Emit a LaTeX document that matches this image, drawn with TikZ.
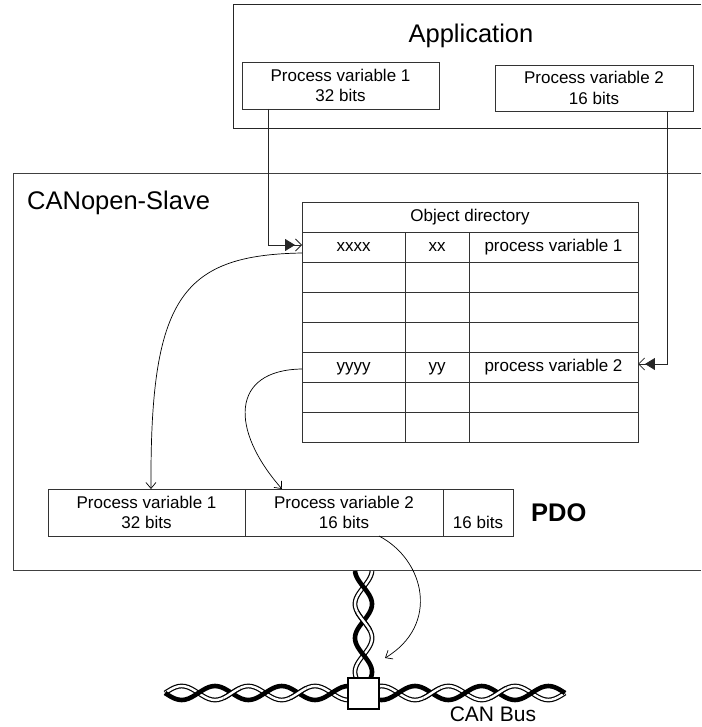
\documentclass[tikz,border=0pt]{standalone}
\usepackage{fontspec}
\setmainfont{Liberation Sans}
\usetikzlibrary{positioning, calc, arrows.meta}
\newcommand{\pvfont}{\fontsize{17}{20.5}\selectfont}
\newcommand{\titlefont}{\fontsize{25.5}{30}\selectfont}
\newcommand{\busfont}{\fontsize{21}{25}\selectfont}
\tikzset{
  frame/.style={draw=black!75, line width=0.9},
  box/.style={draw=black!80, line width=0.9, align=center, font=\pvfont, outer sep=0},
  cell/.style={box, minimum height=30, text height=12.5, text depth=3.5},
  feed/.style={-{Triangle[length=10pt, width=12pt] Straight Barb[length=6pt, width=12pt]}, draw=black!85, line width=0.8},
  map/.style={-{Straight Barb[length=6pt, width=10pt]}, line width=0.7},
  wirea/.style={line width=4.6, line join=round},
  wireb/.style={draw=black, double=white, line width=1.2, double distance=2.4},
  every node/.style={inner sep=0}
}

\begin{document}
\begin{tikzpicture}[x=1pt, y=-1pt]
  \useasboundingbox (0,0) rectangle (701,727);
  % application
  \draw[frame, draw=black!85] (701,4) -- (233,4) -- (233,128) -- (701,128);
  \node[font=\titlefont, anchor=base] (app) at (471,43) {Application};
  \node[box, minimum width=197, minimum height=47] (appvar1) at (340.5,85.5) {Process variable 1\\32 bits};
  \node[box, minimum width=198, minimum height=46] (appvar2) at (594,88) {Process variable 2\\16 bits};
  % slave
  \draw[frame] (701,173) -- (13,173) -- (13,570) -- (701,570);
  \node[font=\titlefont, anchor=base west] (slave) at (27,210) {CANopen-Slave};
  % object directory
  \node[cell, minimum width=336] (odhead) at (470,217) {Object directory};
  \foreach \r/\idx/\sub/\txt in {1/xxxx/xx/process variable 1, 2/{}/{}/{}, 3/{}/{}/{}, 4/{}/{}/{},
      5/yyyy/yy/process variable 2, 6/{}/{}/{}, 7/{}/{}/{}} {
    \node[cell, minimum width=103] (idx\r) at (353.5,{247+30*(\r-1)}) {\idx};
    \node[cell, minimum width=64] (sub\r) at (437,{247+30*(\r-1)}) {\sub};
    \node[cell, minimum width=169] (txt\r) at (553.5,{247+30*(\r-1)}) {\txt};
  }
  \draw[feed] ($(appvar1.south west)+(26,0)$) |- ($(idx1.west)+(0,-2)$);
  \draw[feed] ($(appvar2.south east)+(-26,0)$) |- ($(txt5.east)+(0,-3)$);
  % pdo
  \node[box, minimum width=197, minimum height=47] (pdo1) at (146.5,512.5) {Process variable 1\\32 bits};
  \node[box, minimum width=198, minimum height=47, right=0pt of pdo1] (pdo2) {Process variable 2\\16 bits};
  \node[box, minimum width=70, minimum height=47, right=0pt of pdo2] (pdo3) {\phantom{P}\\16 bits};
  \node[font=\titlefont\bfseries, right=18pt of pdo3] (pdolabel) {PDO};
  \draw[map] ($(idx1.west)+(0,6)$) .. controls (180,255) and (150,300) .. ($(pdo1.north)+(4.5,0)$);
  \draw[map] ($(idx5.west)+(0,2)$) .. controls (230,370) and (230,430) .. ($(pdo2.north west)+(37,0)$);
  \coordinate (tapin) at (385,658);
  \draw[map] ($(pdo2.south)+(35,0)$) .. controls (425,560) and (440,625) .. (tapin);
  % cable
  \draw[wireb] plot[domain=571:678, samples=60, smooth] ({363.5-8.5*sin((\x-587)*5.294)}, \x);
  \draw[wirea] plot[domain=571:678, samples=60, smooth] ({363.5+8.5*sin((\x-587)*5.294)}, \x);
  \draw[wireb] plot[domain=612:630, samples=9, smooth] ({363.5-8.5*sin((\x-587)*5.294)}, \x);
  \draw[wireb] plot[domain=165:565, samples=121, smooth] (\x, {693-7*sin((\x-165)*5.4)});
  \draw[wirea] plot[domain=165:565, samples=121, smooth] (\x, {693+7*sin((\x-165)*5.4)});
  \foreach \c in {2,4,8,10} {
    \pgfmathsetmacro\lo{165+33.333*\c-8.3}
    \pgfmathsetmacro\hi{165+33.333*\c+8.3}
    \draw[wireb] plot[domain=\lo:\hi, samples=9, smooth] (\x, {693-7*sin((\x-165)*5.4)});
  }
  \node[draw, line width=1.5, fill=white, minimum size=31] (tap) at (363.5,693.5) {};
  \node[font=\busfont, anchor=base] (bus) at (493,721) {CAN Bus};
\end{tikzpicture}
\end{document}
